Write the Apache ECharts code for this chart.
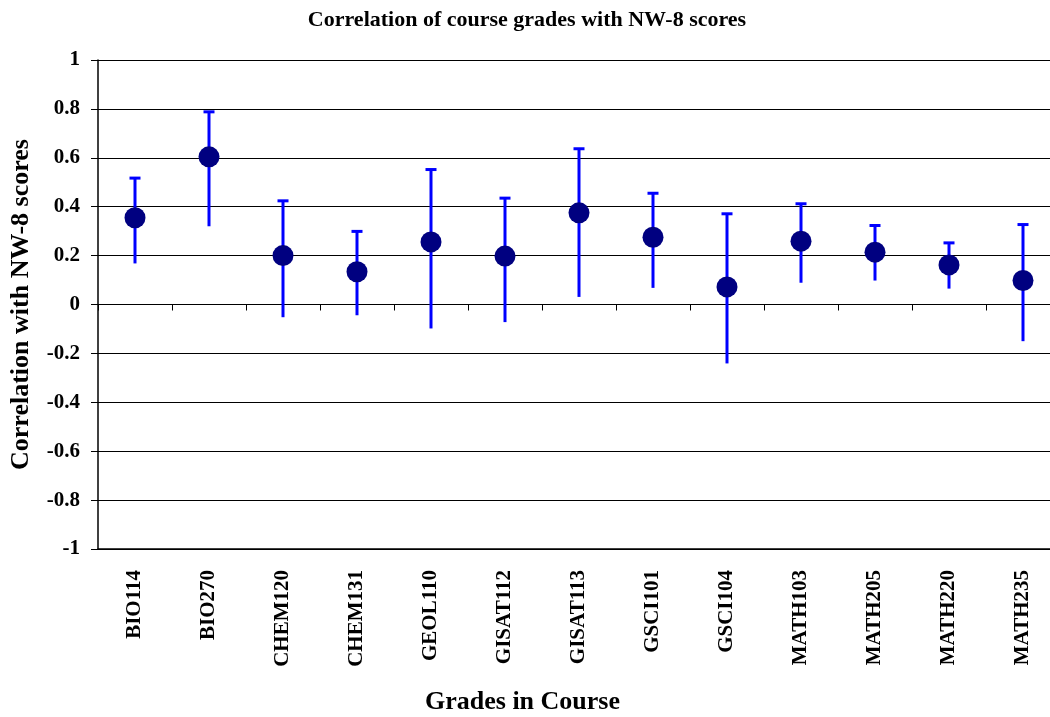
<!DOCTYPE html>
<html>
<head>
<meta charset="utf-8">
<script src="https://cdn.jsdelivr.net/npm/echarts@6/dist/echarts.min.js"></script>
<style>
html,body{margin:0;padding:0;background:#fff;overflow:hidden;width:1050px;height:717px;}
#chart{width:1070px;height:717px;}
</style>
</head>
<body>
<div id="chart"></div>
<script>
const categories = ['BIO114','BIO270','CHEM120','CHEM131','GEOL110','GISAT112','GISAT113','GSCI101','GSCI104','MATH103','MATH205','MATH220','MATH235'];
const correlation = [0.355, 0.604, 0.200, 0.134, 0.256, 0.198, 0.375, 0.275, 0.072, 0.259, 0.214, 0.162, 0.098];
const upperBound = [0.517, 0.788, 0.424, 0.299, 0.552, 0.435, 0.637, 0.455, 0.371, 0.412, 0.323, 0.252, 0.327];
const lowerBound = [0.168, 0.320, -0.052, -0.044, -0.098, -0.072, 0.031, 0.068, -0.241, 0.089, 0.098, 0.065, -0.150];
const yTicks = { min: -1, max: 1, interval: 0.2 };

const titleText = 'Correlation of course grades with NW-8 scores';
const xName = 'Grades in Course';
const yName = 'Correlation with NW-8 scores';

const FONT = '"Liberation Serif", "Times New Roman", serif';

const errData = categories.map((c, i) => [i, lowerBound[i], upperBound[i]]);
const dotData = categories.map((c, i) => [i, correlation[i]]);

const chart = echarts.init(document.getElementById('chart'));
chart.setOption({
  animation: false,
  backgroundColor: '#fff',
  title: {
    text: titleText,
    left: 522,
    textAlign: 'center',
    top: 4,
    textStyle: { fontFamily: FONT, fontWeight: 'bold', fontSize: 22, color: '#000' }
  },
  graphic: [{
    type: 'text',
    left: 425,
    top: 689,
    style: { text: xName, font: 'bold 26px ' + FONT, fill: '#000' }
  }],
  grid: { left: 98, right: 10, top: 60, height: 489, containLabel: false },
  xAxis: [{
    type: 'category',
    data: categories,
    position: 'bottom',
    boundaryGap: true,
    axisLine: { show: true, onZero: false, lineStyle: { color: '#000', width: 1.5 } },
    axisTick: { show: false },
    axisLabel: {
      interval: 0, rotate: 90, margin: 21,
      fontFamily: FONT, fontWeight: 'bold', fontSize: 21, color: '#000'
    },
    splitLine: { show: false }
  }, {
    type: 'category',
    data: categories,
    position: 'top',
    boundaryGap: true,
    axisLine: { show: true, onZero: true, lineStyle: { color: '#000', width: 1 } },
    axisTick: { show: true, inside: true, length: 6, interval: 0, lineStyle: { color: '#000', width: 1 } },
    axisLabel: { show: false },
    splitLine: { show: false }
  }],
  yAxis: {
    type: 'value',
    min: yTicks.min, max: yTicks.max, interval: yTicks.interval,
    name: yName,
    nameLocation: 'middle',
    nameRotate: 90,
    nameGap: 64,
    nameTextStyle: { fontFamily: FONT, fontWeight: 'bold', fontSize: 26, color: '#000' },
    axisLine: { show: true, onZero: false, lineStyle: { color: '#000', width: 1.5 } },
    axisTick: { show: true, length: 7, lineStyle: { color: '#000', width: 1 } },
    axisLabel: {
      margin: 18,
      fontFamily: FONT, fontWeight: 'bold', fontSize: 21, color: '#000',
      formatter: v => String(Math.round(v * 10) / 10)
    },
    splitLine: { show: true, lineStyle: { color: '#000', width: 1.2 } }
  },
  series: [{
    type: 'custom',
    xAxisIndex: 0,
    data: errData,
    z: 3,
    clip: false,
    renderItem: function (params, api) {
      const x = api.value(0);
      const pLo = api.coord([x, api.value(1)]);
      const pHi = api.coord([x, api.value(2)]);
      const st = { stroke: '#0000FF', lineWidth: 3 };
      return {
        type: 'group',
        children: [
          { type: 'line', shape: { x1: pHi[0], y1: pHi[1], x2: pLo[0], y2: pLo[1] }, style: st },
          { type: 'line', shape: { x1: pHi[0] - 5.5, y1: pHi[1], x2: pHi[0] + 5.5, y2: pHi[1] }, style: st }
        ]
      };
    }
  }, {
    type: 'scatter',
    xAxisIndex: 0,
    data: dotData,
    symbol: 'circle',
    symbolSize: 21,
    z: 4,
    itemStyle: { color: '#000080', opacity: 1 }
  }]
});
</script>
</body>
</html>
